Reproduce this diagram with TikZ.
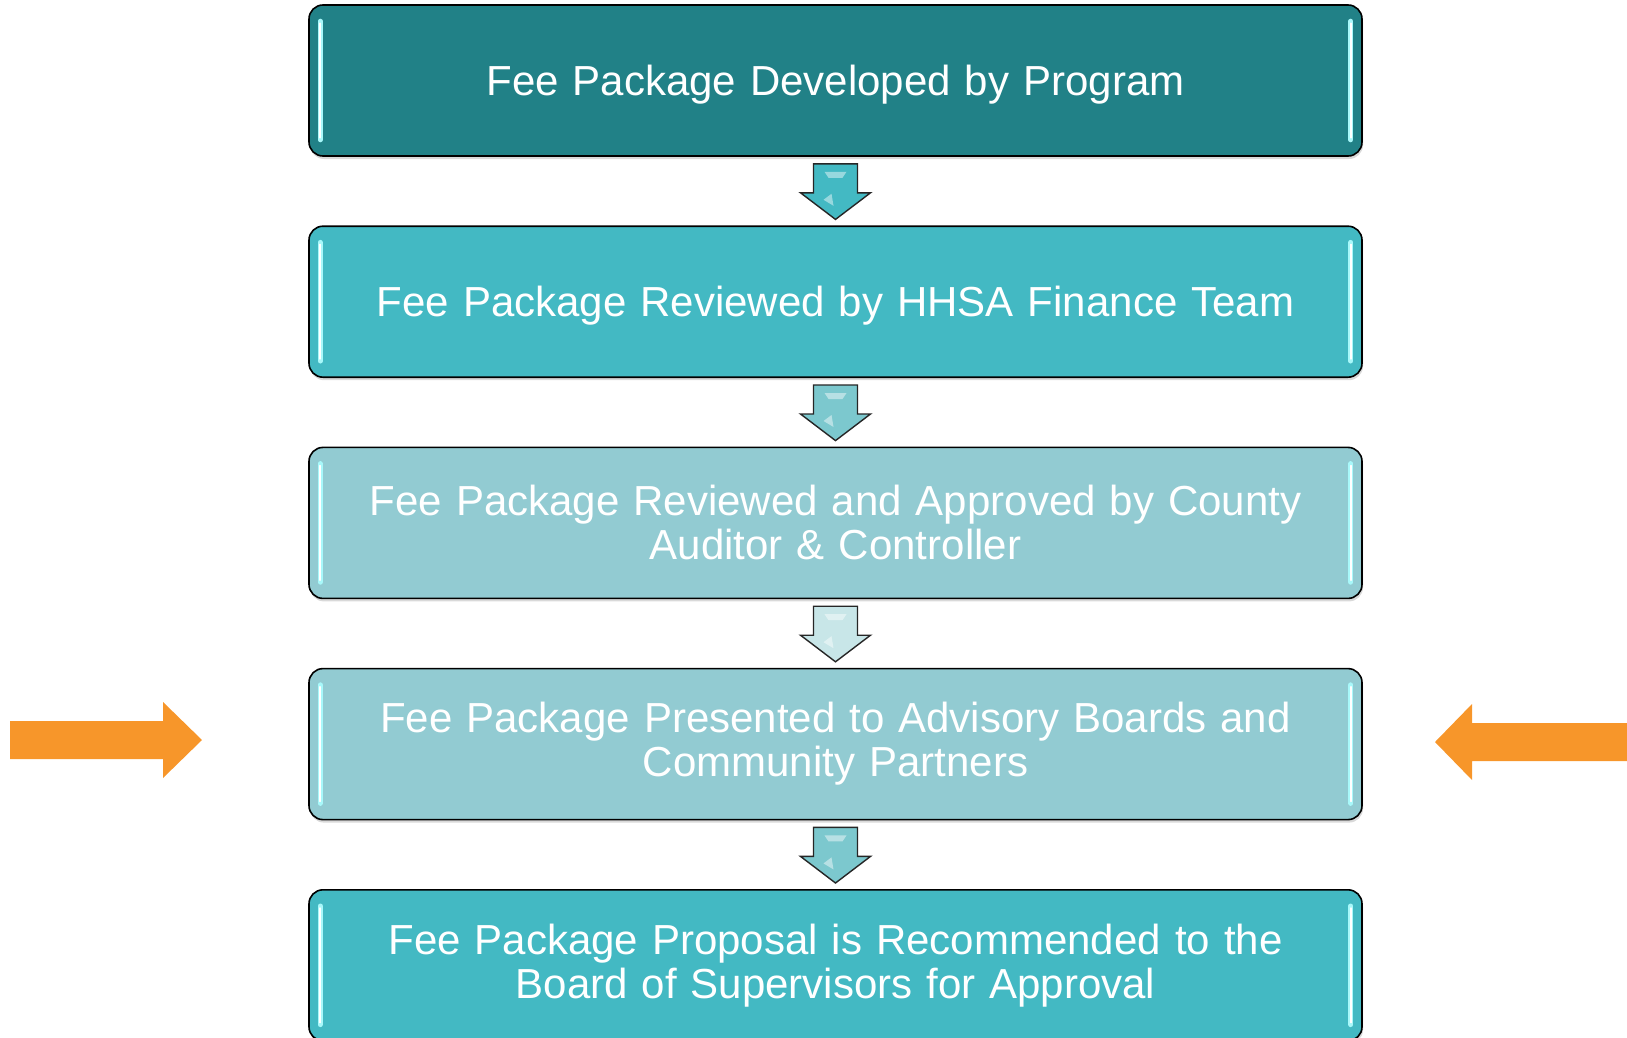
\documentclass[tikz,border=0pt]{standalone}
\usepackage{fontspec}
\setmainfont{Liberation Sans}
\usetikzlibrary{positioning,calc,shadows}

\definecolor{tealdark}{HTML}{218187}
\definecolor{tealmid}{HTML}{43B9C3}
\definecolor{teallight}{HTML}{92CBD2}
\definecolor{arrowmid}{HTML}{7CC8CE}
\definecolor{arrowpale}{HTML}{C8E6E8}
\definecolor{feeorange}{HTML}{F7962A}
\definecolor{glintcyan}{HTML}{A8F8FA}

\newcommand{\oneline}[1]{\raisebox{-4pt}[\height][\depth]{#1}}

\begin{document}
\begin{tikzpicture}[x=1pt,y=-1pt,
    stage/.style={draw=black, line width=1.6pt, rounded corners=14pt,
      minimum width=1053pt, minimum height=151pt, text width=1000pt,
      align=center, text=white, font=\fontsize{42}{44}\selectfont,
      drop shadow={shadow xshift=1pt, shadow yshift=-3pt, opacity=0.3}},
    glint/.style={draw=glintcyan, line width=5pt, line cap=round},
    glintcore/.style={draw=white, line width=1.5pt, line cap=round},
    downarrow/.style={draw=black!85, line width=1.4pt, line join=miter},
    sidearrow/.style={fill=feeorange},
    node distance=68.6pt]
    \useasboundingbox (0,0) rectangle (1627,1038);

    % the five stages
    \node[stage, fill=tealdark] (develop) at (835.5,80.5) {\oneline{Fee Package Developed by Program}};
    \node[stage, fill=tealmid, below=of develop] (finance) {\oneline{Fee Package Reviewed by HHSA Finance Team}};
    \node[stage, fill=teallight, below=of finance] (auditor) {Fee Package Reviewed and Approved by County\\Auditor \& Controller};
    \node[stage, fill=teallight, below=of auditor] (advisory) {Fee Package Presented to Advisory Boards and\\Community Partners};
    \node[stage, fill=tealmid, below=of advisory] (board) {Fee Package Proposal is Recommended to the\\Board of Supervisors for Approval};

    % side glints
    \foreach \n in {develop,finance,auditor,advisory,board} {
      \draw[glint] ([xshift=12pt,yshift=-17pt]\n.north west) -- ([xshift=12pt,yshift=17pt]\n.south west);
      \draw[glint] ([xshift=-12pt,yshift=-17pt]\n.north east) -- ([xshift=-12pt,yshift=17pt]\n.south east);
      \draw[glintcore] ([xshift=12pt,yshift=-19pt]\n.north west) -- ([xshift=12pt,yshift=19pt]\n.south west);
      \draw[glintcore] ([xshift=-12pt,yshift=-19pt]\n.north east) -- ([xshift=-12pt,yshift=19pt]\n.south east);
    }

    % block arrows between stages
    \foreach \a/\b/\c in {develop/finance/tealmid, finance/auditor/arrowmid,
        auditor/advisory/arrowpale, advisory/board/arrowmid} {
      \coordinate (shafttop) at ([yshift=-7pt]\a.south);
      \coordinate (headtip) at ([yshift=6pt]\b.north);
      \filldraw[downarrow, fill=\c] ($(shafttop)+(-22,0)$) -- ($(shafttop)+(22,0)$)
        -- ($(shafttop)+(22,29)$) -- ($(shafttop)+(35,29)$) -- (headtip)
        -- ($(shafttop)+(-35,29)$) -- ($(shafttop)+(-22,29)$) -- cycle;
      \fill[white, opacity=0.45] ($(shafttop)+(-11,8)$) -- ($(shafttop)+(11,8)$)
        -- ($(shafttop)+(7,14)$) -- ($(shafttop)+(-7,14)$) -- cycle;
      \fill[white, opacity=0.45] ($(shafttop)+(-12,36)$) -- ($(shafttop)+(-4,30)$)
        -- ($(shafttop)+(-2,42)$) -- cycle;
    }

    % orange pointers at the advisory stage
    \fill[sidearrow] (10,721) -- (163,721) -- (163,702) -- (202,740) -- (163,778) -- (163,759) -- (10,759) -- cycle;
    \fill[sidearrow] (1627,723) -- (1472,723) -- (1472,704) -- (1435,742) -- (1472,780) -- (1472,761) -- (1627,761) -- cycle;
\end{tikzpicture}
\end{document}
